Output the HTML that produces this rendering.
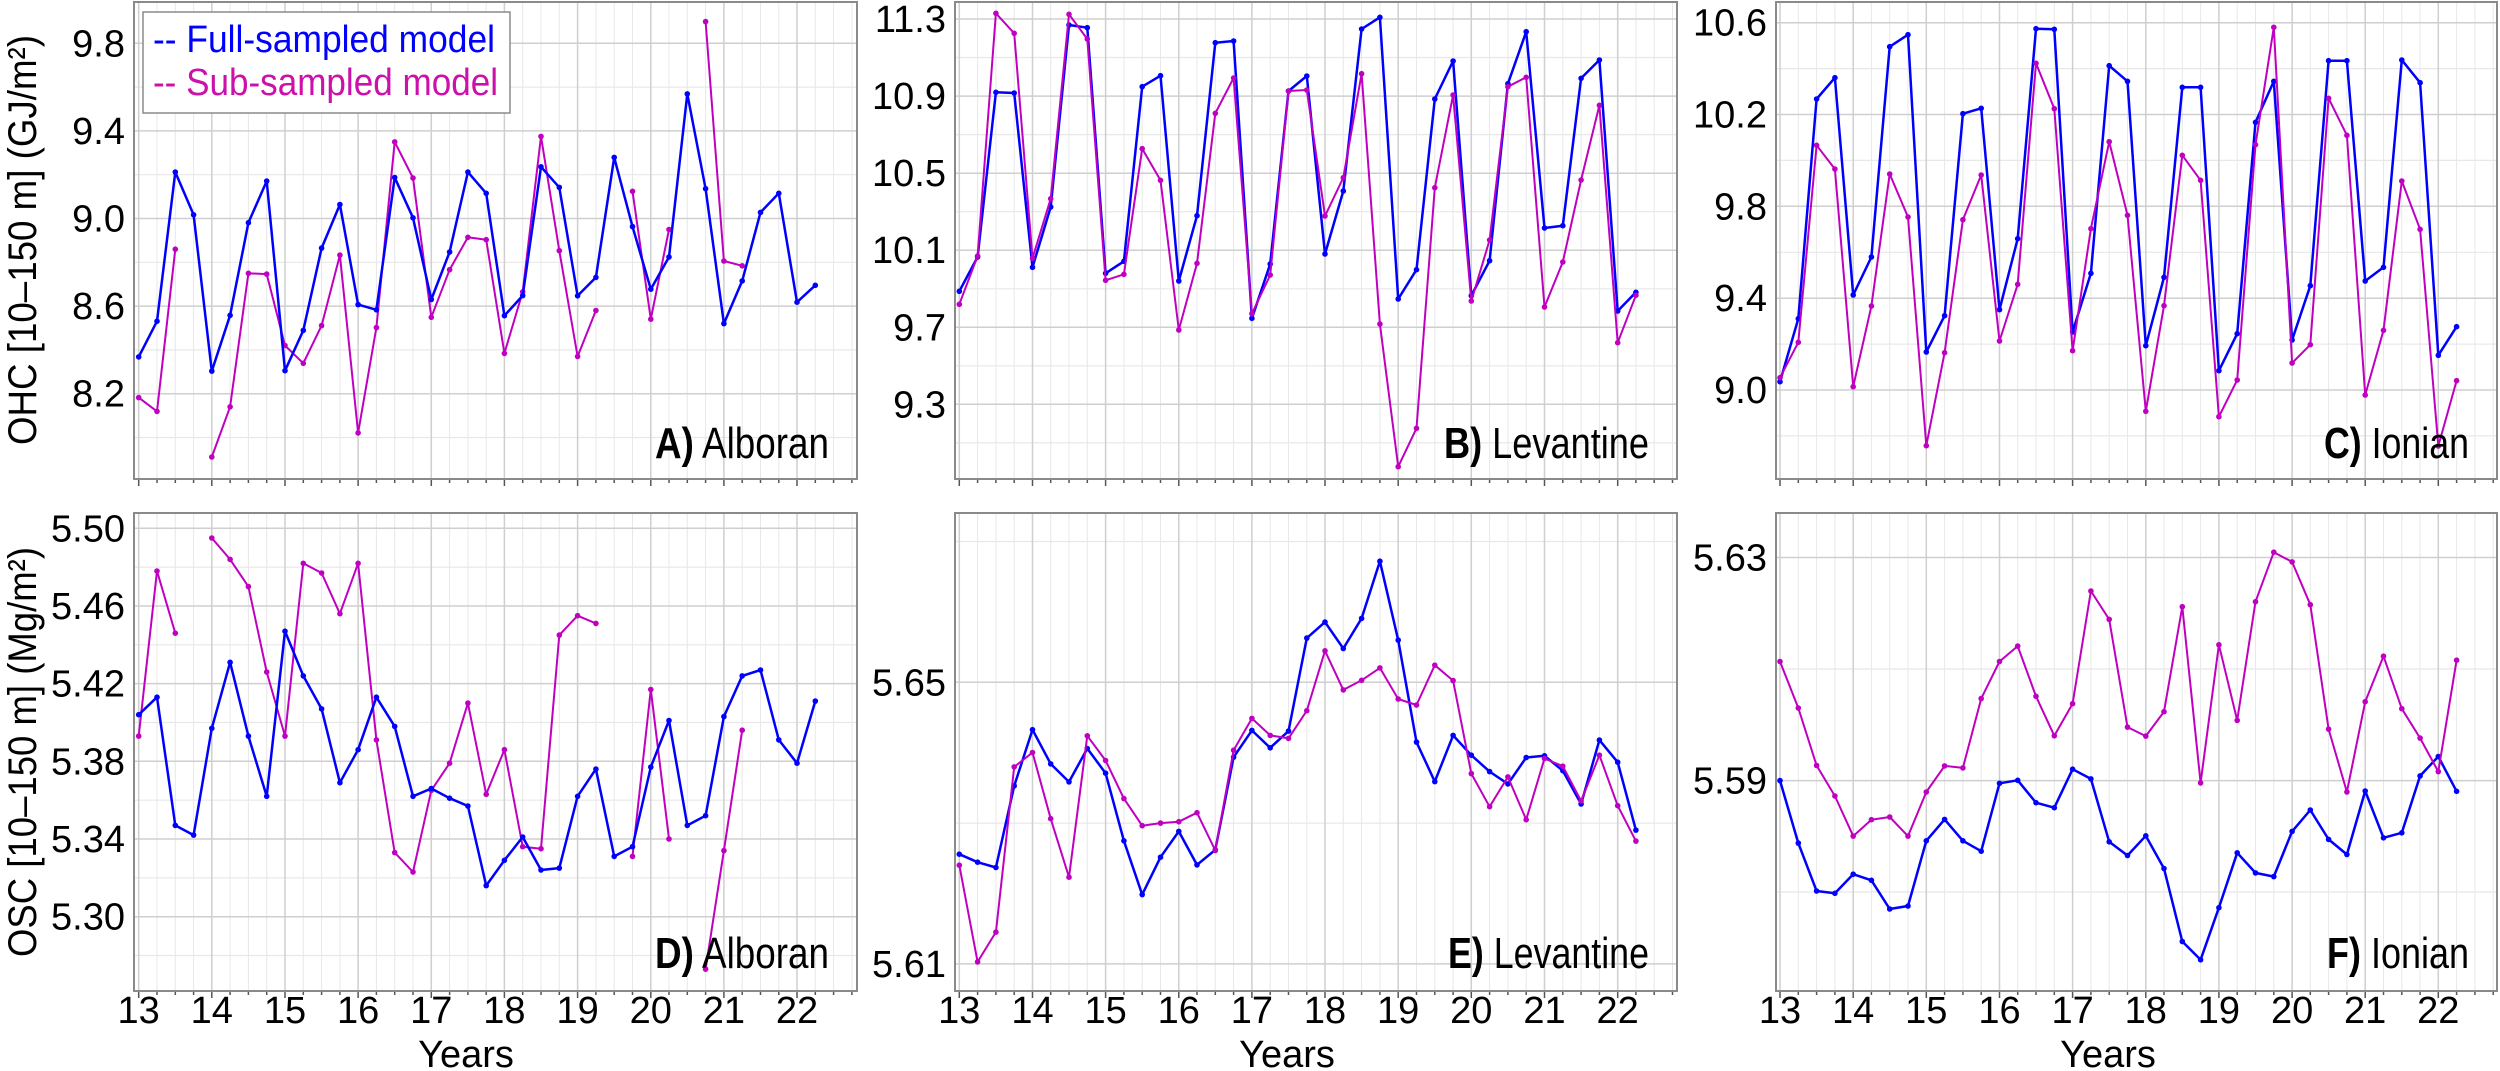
<!DOCTYPE html>
<html><head><meta charset="utf-8"><style>
html,body{margin:0;padding:0;background:#fff;}
svg{display:block;}
</style></head><body>
<svg id="s" xmlns="http://www.w3.org/2000/svg" width="2500" height="1071" viewBox="0 0 2500 1071"></svg>
<script>
const svg=document.getElementById('s');
let out='';
const BLUE='#0000ff', MAG='#c000c0';
const cols=[{L:134,R:857,x0:138.7},{L:955,R:1677,x0:959.3},{L:1776,R:2497,x0:1780}];
const rows=[{T:2,B:479},{T:513,B:991}];
const DX=73.15;
function f(n){return n.toFixed(1);}
function panel(c,r,majors,minors,series,lab,showX){
  const C=cols[c],R=rows[r];
  for(let q=0;q<40;q++){const x=C.x0+q*DX/4; if(x>C.R-1)break; if(q%4) out+=`<line x1="${f(x)}" y1="${R.T}" x2="${f(x)}" y2="${R.B}" stroke="#e8e8e8" stroke-width="1"/>`;}
  minors.forEach(y=>{out+=`<line x1="${C.L}" y1="${f(y)}" x2="${C.R}" y2="${f(y)}" stroke="#e8e8e8" stroke-width="1.2"/>`;});
  for(let k=0;k<10;k++){const x=C.x0+k*DX; out+=`<line x1="${f(x)}" y1="${R.T}" x2="${f(x)}" y2="${R.B}" stroke="#cfcfcf" stroke-width="1.5"/>`;}
  majors.forEach(m=>{out+=`<line x1="${C.L}" y1="${f(m[0])}" x2="${C.R}" y2="${f(m[0])}" stroke="#cfcfcf" stroke-width="1.5"/>`;
    out+=`<text x="${C.L-9}" y="${f(m[0]+13)}" text-anchor="end" font-family="Liberation Sans, sans-serif" font-size="38" fill="#000">${m[1]}</text>`;});
  for(let q=0;q<40;q++){const x=C.x0+q*DX/4; if(x>C.R-1)break; const len=q%4?4:7; out+=`<line x1="${f(x)}" y1="${R.B}" x2="${f(x)}" y2="${R.B+len}" stroke="#555" stroke-width="1.5"/>`;}
  if(showX){for(let k=0;k<10;k++){const x=C.x0+k*DX; out+=`<text x="${f(x)}" y="1023" text-anchor="middle" font-family="Liberation Sans, sans-serif" font-size="38" fill="#000">${13+k}</text>`;}
    out+=`<text x="${C.L+332}" y="1067" text-anchor="middle" font-family="Liberation Sans, sans-serif" font-size="38" fill="#000">Years</text>`;}
  series.forEach(s=>{const ys=s[0],col=s[1],w=s[2];let seg=[];
    const flush=()=>{if(seg.length>1)out+=`<polyline points="${seg.join(' ')}" fill="none" stroke="${col}" stroke-width="${w}" stroke-linejoin="round"/>`;seg=[];};
    ys.forEach((y,i)=>{if(y===null){flush();return;}const x=C.x0+i*DX/4;seg.push(f(x)+','+f(y));
      out+=`<circle cx="${f(x)}" cy="${f(y)}" r="2.8" fill="${col}"/>`;});flush();});
  out+=`<rect x="${C.L}" y="${R.T}" width="${C.R-C.L}" height="${R.B-R.T}" fill="none" stroke="#8a8a8a" stroke-width="2"/>`;
  out+=`<text x="${C.R-28}" y="${lab[2]}" text-anchor="end" font-family="Liberation Sans, sans-serif" font-size="44" fill="#000" textLength="${lab[3]}" lengthAdjust="spacingAndGlyphs"><tspan font-weight="bold">${lab[0]}</tspan> ${lab[1]}</text>`;
}
const yA=v=>v===null?null:43.3+(9.8-v)*219;
const yD=v=>v===null?null:528.3+(5.5-v)*1941.7;
const z3=a=>a.map(y=>y===null?null:y/3.0);
const zE=a=>a.map(y=>y===null?null:505+y/2.99);
const Ab=[8.368,8.531,9.212,9.017,8.303,8.558,8.981,9.171,8.305,8.489,8.865,9.064,8.607,8.583,9.187,9.003,8.630,8.847,9.212,9.115,8.556,8.648,9.236,9.142,8.647,8.731,9.279,8.963,8.677,8.824,9.569,9.136,8.520,8.715,9.028,9.115,8.618,8.695];
const Am=[8.182,8.119,8.860,null,7.911,8.140,8.750,8.746,8.420,8.339,8.511,8.833,8.021,8.502,9.350,9.185,8.549,8.766,8.914,8.903,8.384,8.665,9.375,8.853,8.370,8.580,null,9.124,8.540,8.950,null,9.899,8.806,8.784];
const Db=[5.404,5.413,5.347,5.342,5.397,5.431,5.393,5.362,5.447,5.424,5.407,5.369,5.386,5.413,5.398,5.362,5.366,5.361,5.357,5.316,5.329,5.341,5.324,5.325,5.362,5.376,5.331,5.336,5.377,5.401,5.347,5.352,5.403,5.424,5.427,5.391,5.379,5.411];
const Dm=[5.393,5.478,5.446,null,5.495,5.484,5.470,5.426,5.393,5.482,5.477,5.456,5.482,5.391,5.333,5.323,5.365,5.379,5.410,5.363,5.386,5.336,5.335,5.445,5.455,5.451,null,5.331,5.417,5.340,null,5.273,5.334,5.396];
const Bb=[874,771,277,279,802,621,75,83,820,784,260,227,843,647,128,123,955,792,273,228,762,573,87,52,897,809,297,183,887,782,251,95,684,677,235,180,933,877];
const Bm=[913,768,40,100,775,596,43,117,841,823,446,541,990,790,340,234,941,825,273,270,648,533,221,972,1400,1285,563,285,903,720,260,232,921,786,540,316,1028,886];
const Cb=[1145,956,297,233,885,771,140,104,1056,947,341,325,929,716,86,88,996,820,197,244,1037,832,262,262,1112,1001,367,244,1020,857,182,182,843,802,180,248,1066,980];
const Cm=[1133,1027,436,507,1160,918,522,651,1337,1058,659,525,1023,853,190,326,1052,686,425,646,1234,917,466,541,1250,1140,434,82,1089,1034,295,406,1185,991,543,688,1338,1142];
const Eb=[1044,1068,1084,840,672,774,828,728,802,1004,1165,1053,976,1076,1031,754,674,726,676,398,350,429,339,168,404,709,827,689,748,797,834,755,750,794,894,703,769,972];
const Em=[1077,1366,1277,783,740,938,1113,690,764,878,959,951,947,920,1033,733,638,689,698,615,436,553,524,487,580,598,479,525,803,902,813,941,758,781,885,748,899,1005];
const Fb=[824,1011,1154,1161,1104,1122,1208,1199,1004,940,1004,1035,832,823,890,905,790,819,1007,1048,989,1087,1305,1360,1204,1040,1100,1111,976,912,1000,1045,855,995,980,810,752,856];
const Fm=[468,607,779,870,990,941,933,990,858,780,786,579,468,422,572,690,594,257,342,664,691,618,304,831,418,644,289,141,170,298,670,858,588,452,609,697,797,464];

panel(0,0,[[43.3,'9.8'],[130.9,'9.4'],[218.5,'9.0'],[306.1,'8.6'],[393.7,'8.2']],[87.1,174.7,262.3,349.9,437.5],
 [[Am.map(yA),MAG,2],[Ab.map(yA),BLUE,2.5]],['A)','Alboran',458,174],false);
panel(1,0,[[19,'11.3'],[96.1,'10.9'],[173.2,'10.5'],[250.2,'10.1'],[327.3,'9.7'],[404.3,'9.3']],[57.5,134.6,211.7,288.8,365.8,442.9],
 [[z3(Bb),BLUE,2.5],[z3(Bm),MAG,2]],['B)','Levantine',458,205],false);
panel(2,0,[[22.7,'10.6'],[114.5,'10.2'],[206.3,'9.8'],[298.2,'9.4'],[390,'9.0']],[68.6,160.4,252.3,344.1,435.9],
 [[z3(Cb),BLUE,2.5],[z3(Cm),MAG,2]],['C)','Ionian',458,145],false);
panel(0,1,[[528.3,'5.50'],[606,'5.46'],[683.6,'5.42'],[761.3,'5.38'],[839,'5.34'],[916.7,'5.30']],[567.1,644.8,722.5,800.2,877.8,955.5],
 [[Dm.map(yD),MAG,2],[Db.map(yD),BLUE,2.5]],['D)','Alboran',968,174],true);
panel(1,1,[[682.3,'5.65'],[963.9,'5.61']],[541.5,823.1],
 [[zE(Eb),BLUE,2.5],[zE(Em),MAG,2]],['E)','Levantine',968,201],true);
panel(2,1,[[557.5,'5.63'],[780.6,'5.59']],[669,892],
 [[zE(Fb),BLUE,2.5],[zE(Fm),MAG,2]],['F)','Ionian',968,142],true);

out+=`<rect x="143" y="12" width="367" height="101" fill="#fff" stroke="#8a8a8a" stroke-width="1.5"/>`;
out+=`<text x="153" y="52" font-family="Liberation Sans, sans-serif" font-size="38" fill="${BLUE}" textLength="342" lengthAdjust="spacingAndGlyphs">-- Full-sampled model</text>`;
out+=`<text x="153" y="95" font-family="Liberation Sans, sans-serif" font-size="38" fill="#cc10aa" textLength="345" lengthAdjust="spacingAndGlyphs">-- Sub-sampled model</text>`;
out+=`<text transform="translate(36,240) rotate(-90)" text-anchor="middle" font-family="Liberation Sans, sans-serif" font-size="40" fill="#000" textLength="410" lengthAdjust="spacingAndGlyphs">OHC [10–150 m] (GJ/m²)</text>`;
out+=`<text transform="translate(36,752) rotate(-90)" text-anchor="middle" font-family="Liberation Sans, sans-serif" font-size="40" fill="#000" textLength="410" lengthAdjust="spacingAndGlyphs">OSC [10–150 m] (Mg/m²)</text>`;
svg.innerHTML=out;
</script>
</body></html>
